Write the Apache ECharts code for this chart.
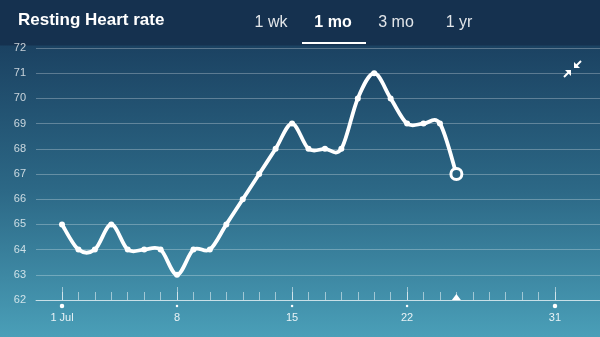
<!DOCTYPE html>
<html><head><meta charset="utf-8">
<script src="https://cdn.jsdelivr.net/npm/echarts@6/dist/echarts.min.js"></script>
<style>
html,body{margin:0;padding:0;background:#163452;}
#c{width:600px;height:337px;background:linear-gradient(to bottom,#15314f 0px,#15314f 45px,#1b4262 46px,#2c6886 190px,#4a9fb8 337px);}
</style>
</head><body><div id="c"></div>
<script>
const days = [1,2,3,4,5,6,7,8,9,10,11,12,13,14,15,16,17,18,19,20,21,22,23,24,25];
const values = [65,64,64,65,64,64,64,63,64,64,65,66,67,68,69,68,68,68,70,71,70,69,69,69,67];
const tickDays = [1,2,3,4,5,6,7,8,9,10,11,12,13,14,15,16,17,18,19,20,21,22,23,24,25,26,27,28,29,30,31];
const majorDays = [1,8,15,22,31];
const majorLabels = ['1 Jul','8','15','22','31'];
const yMin = 62, yMax = 72, yStep = 1;
const currentDay = 25;
const title = 'Resting Heart rate';
const tabs = ['1 wk','1 mo','3 mo','1 yr'];
const activeTab = '1 mo';

const chart = echarts.init(document.getElementById('c'), null, {renderer:'canvas'});
const xMin = -0.582, xMax = 33.74;
const n = days.length;
const pointData = days.map((d,i)=>{
  if (i === n-1) {
    return {value:[d,values[i]], symbol:'circle', symbolSize:11,
      itemStyle:{color:'#2a6381', borderColor:'#ffffff', borderWidth:3, opacity:1}};
  }
  return [d,values[i]];
});
// smooth (Catmull-Rom) curve drawn segment by segment through the axis scales
function renderSegment(params, api) {
  const i = params.dataIndex;
  if (i >= n-1) return null;
  const c = (j)=>{ j = Math.max(0, Math.min(n-1, j)); return api.coord([days[j], values[j]]); };
  const p0 = c(i-1), p1 = c(i), p2 = c(i+1), p3 = c(i+2);
  return {
    type:'bezierCurve',
    shape:{
      x1:p1[0], y1:p1[1], x2:p2[0], y2:p2[1],
      cpx1:p1[0]+(p2[0]-p0[0])/6, cpy1:p1[1]+(p2[1]-p0[1])/6,
      cpx2:p2[0]-(p3[0]-p1[0])/6, cpy2:p2[1]-(p3[1]-p1[1])/6
    },
    style:{stroke:'#ffffff', lineWidth:3.8, fill:null, lineCap:'round'}
  };
}
const tabX = [271, 333, 396, 459];
const graphics = [
  {type:'text', left:18, top:12, style:{text:title, fill:'#ffffff', font:'bold 17px "Liberation Sans", Arial, sans-serif'}},
];
tabs.forEach((t,i)=>{
  graphics.push({type:'text', x:tabX[i], y:23, style:{text:t, fill: t===activeTab?'#ffffff':'rgba(255,255,255,0.88)',
    font:(t===activeTab?'bold ':'')+'16px "Liberation Sans", Arial, sans-serif', align:'center', verticalAlign:'middle'}});
});
graphics.push({type:'rect', shape:{x:302,y:42,width:64,height:2}, style:{fill:'#ffffff'}});
// compress icon
graphics.push({type:'polygon', shape:{points:[[574,62],[574,68],[580,68]]}, style:{fill:'#fff'}});
graphics.push({type:'line', shape:{x1:576,y1:66,x2:581,y2:61}, style:{stroke:'#fff', lineWidth:2}});
graphics.push({type:'polygon', shape:{points:[[565,70],[571,70],[571,76]]}, style:{fill:'#fff'}});
graphics.push({type:'line', shape:{x1:569,y1:72,x2:564,y2:77}, style:{stroke:'#fff', lineWidth:2}});

chart.setOption({
  animation:false,
  grid:{left:36, right:0, top:48, bottom:37},
  graphic:graphics,
  xAxis:[{
    type:'value', min:xMin, max:xMax, position:'bottom',
    axisLine:{show:true, lineStyle:{color:'rgba(255,255,255,0.6)', width:1}},
    axisTick:{show:true, inside:true, length:8, customValues:tickDays, lineStyle:{color:'rgba(255,255,255,0.5)'}},
    axisLabel:{show:true, customValues:majorDays, margin:12, color:'rgba(255,255,255,0.88)', fontSize:11,
      fontFamily:'"Liberation Sans", Arial, sans-serif',
      formatter:(v)=>{const k=majorDays.indexOf(Math.round(v)); return k>=0?majorLabels[k]:'';}},
    splitLine:{show:false}
  },{
    type:'value', min:xMin, max:xMax, position:'bottom',
    axisLine:{show:false},
    axisTick:{show:true, inside:true, length:13, customValues:majorDays, lineStyle:{color:'rgba(255,255,255,0.5)'}},
    axisLabel:{show:false}, splitLine:{show:false}
  }],
  yAxis:{
    type:'value', min:yMin, max:yMax, interval:yStep,
    axisLine:{show:false}, axisTick:{show:false},
    axisLabel:{color:'rgba(255,255,255,0.75)', fontSize:11, margin:10, fontFamily:'"Liberation Sans", Arial, sans-serif'},
    splitLine:{show:true, lineStyle:{color:'rgba(255,255,255,0.28)', width:1}}
  },
  series:[
    {type:'custom', data:days.map((d,i)=>[d,values[i]]), renderItem:renderSegment, clip:false, z:4, silent:true},
    {type:'scatter', data:pointData, symbol:'circle', symbolSize:6, clip:false,
      itemStyle:{color:'#ffffff', opacity:1}, z:6, silent:true},
    {type:'scatter', data:majorDays.map(d=>[d,yMin]), clip:false, symbol:'circle',
      symbolSize:(v)=> (v[0]===1||v[0]===31)?4.5:2.5, symbolOffset:[0,6], itemStyle:{color:'#ffffff', opacity:1}, silent:true},
    {type:'scatter', data:[[currentDay,yMin]], clip:false, symbol:'triangle', symbolSize:[9,6], symbolOffset:[0,-3],
      itemStyle:{color:'#ffffff', opacity:1}, silent:true}
  ]
});
</script>
</body></html>
